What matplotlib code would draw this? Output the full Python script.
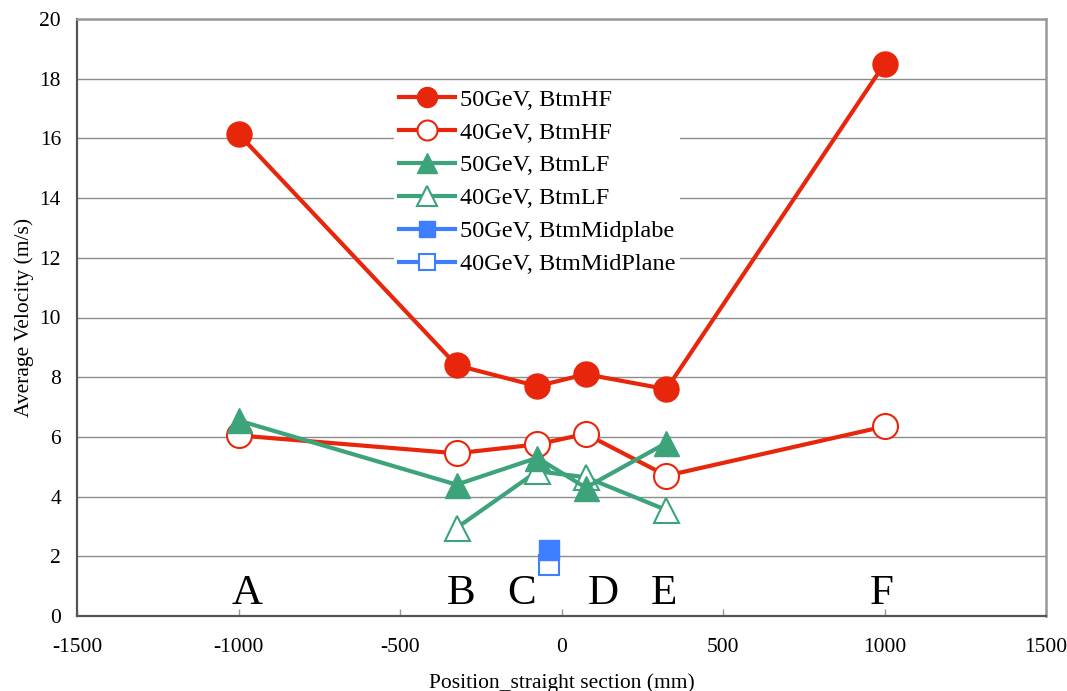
import matplotlib
matplotlib.use("Agg")
import matplotlib.pyplot as plt

plt.rcParams['font.family'] = ['Liberation Serif', 'DejaVu Serif']

# Data
x_hf = [-1000, -325, -75, 75, 325, 1000]
hf50 = [16.15, 8.4, 7.7, 8.1, 7.6, 18.5]
hf40 = [6.05, 5.45, 5.75, 6.1, 4.7, 6.35]
x_lf50 = [-1000, -325, -75, 75, 325]
lf50 = [6.55, 4.4, 5.3, 4.3, 5.8]
x_lf40 = [-325, -75, 75, 325]
lf40 = [2.95, 4.85, 4.65, 3.55]
x_mid = [-40]
mid50 = [2.2]
mid40 = [1.7]

letters = ['A', 'B', 'C', 'D', 'E', 'F']
letter_x = [-973, -311, -125, 128, 317, 992]
letter_y = 0.4

RED = '#E8260C'
GREEN = '#3DA37A'
BLUE = '#3F7FFF'

fig = plt.figure(figsize=(10.67, 6.91), dpi=100)
ax = fig.add_axes([77/1067, 1-616/691, (1046-77)/1067, (616-19)/691])

lw = 3.0
ax.plot(x_hf, hf50, '-o', color=RED, lw=lw, ms=18, mfc=RED, mec=RED, label='50GeV, BtmHF', zorder=3)
ax.plot(x_hf, hf40, '-o', color=RED, lw=lw, ms=18, mfc='white', mec=RED, mew=1.5, label='40GeV, BtmHF', zorder=3)
ax.plot(x_lf50, lf50, '-^', color=GREEN, lw=lw, ms=18, mfc=GREEN, mec=GREEN, label='50GeV, BtmLF', zorder=5)
ax.plot(x_lf40, lf40, '-^', color=GREEN, lw=lw, ms=18, mfc='white', mec=GREEN, mew=1.5, label='40GeV, BtmLF', zorder=4)
ax.plot(x_mid, mid50, '-s', color=BLUE, lw=lw, ms=15, mfc=BLUE, mec=BLUE, label='50GeV, BtmMidplabe', zorder=7)
ax.plot(x_mid, mid40, '-s', color=BLUE, lw=lw, ms=15, mfc='white', mec=BLUE, mew=1.5, label='40GeV, BtmMidPlane', zorder=6)

for t, xv in zip(letters, letter_x):
    ax.text(xv, letter_y, t, ha='center', va='baseline', fontsize=31, zorder=8)

ax.set_xlim(-1500, 1500)
ax.set_ylim(0, 20)
ax.set_xticks([-1500, -1000, -500, 0, 500, 1000, 1500])
ax.set_yticks(range(0, 21, 2))
ax.set_xticklabels(['-1500', '-1000', '-500', '0', '500', '1000', '1500'])
ax.yaxis.grid(True, color='#8c8c8c', lw=1.0)
ax.set_axisbelow(True)

ax.tick_params(axis='x', direction='in', length=5, color='#999999', width=1, labelsize=15.5, pad=15.8)
ax.tick_params(axis='y', length=0, labelsize=15.5, pad=11.5)

for s in ['left', 'bottom']:
    ax.spines[s].set_color('#555555')
    ax.spines[s].set_linewidth(1.6)
for s in ['top', 'right']:
    ax.spines[s].set_color('#999999')
    ax.spines[s].set_linewidth(1.8)

ax.set_xlabel('Position_straight section (mm)', fontsize=15.5, labelpad=11.5)
ax.set_ylabel('Average Velocity (m/s)', fontsize=15.5, labelpad=3.7)

leg = ax.legend(loc='upper left', bbox_to_anchor=(0.315, 0.912), frameon=True,
                fontsize=17.5, handlelength=2.3, handletextpad=0.2, labelspacing=0.45,
                borderpad=0.2, markerscale=0.8)
leg.get_frame().set_facecolor('white')
leg.get_frame().set_edgecolor('none')
leg.get_frame().set_alpha(1.0)

fig.savefig('out.png', dpi=100)
